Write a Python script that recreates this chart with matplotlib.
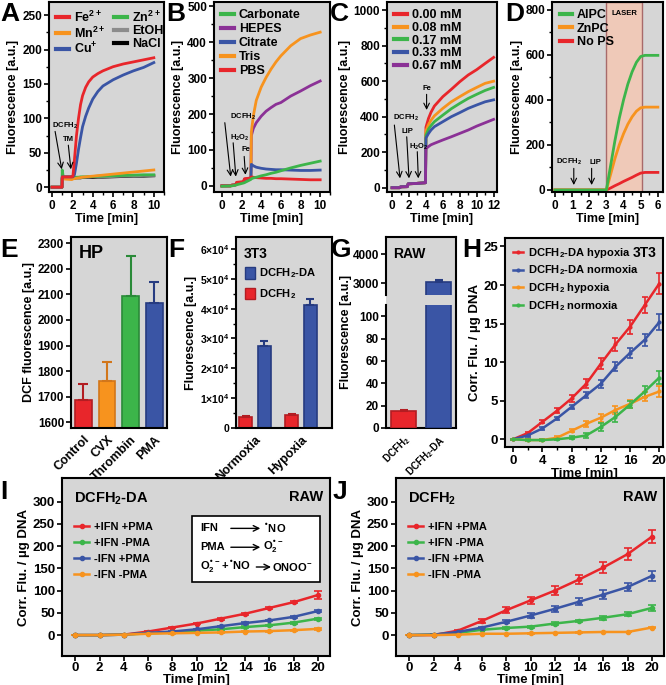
import matplotlib
matplotlib.use('Agg')
import matplotlib.pyplot as plt
from matplotlib.ticker import MultipleLocator
from matplotlib.patches import Patch, Rectangle

plt.rcParams.update({
    'font.family': ['Liberation Sans', 'DejaVu Sans'],
    'font.weight': 'bold',
    'axes.labelweight': 'bold',
    'mathtext.default': 'regular',
    'axes.linewidth': 1.5,
    'xtick.major.width': 1.2, 'ytick.major.width': 1.2,
    'xtick.minor.width': 1.0, 'ytick.minor.width': 1.0,
    'xtick.major.size': 3.5, 'ytick.major.size': 3.5,
    'xtick.minor.size': 2, 'ytick.minor.size': 2,
    'xtick.major.pad': 2, 'ytick.major.pad': 1.5,
    'xtick.labelsize': 8.5, 'ytick.labelsize': 8.5,
    'axes.labelsize': 9,
    'legend.frameon': False,
})

RED = '#e8262b'
ORANGE = '#f7931e'
GREEN = '#3cb54a'
BLUE = '#3a55a5'
PURPLE = '#8b3196'
BG = '#d6d6d6'

# ---------------- data ----------------
# A: metal ions
tA = [0, 0.98, 1.0, 1.1, 1.95, 2.05, 2.2, 2.4, 2.6, 2.8, 3.0, 3.3, 3.6, 4.0, 4.5, 5, 6, 7, 8, 9, 10]
A_fe = [0, 0, 15, 15, 15, 16, 40, 75, 100, 120, 133, 145, 153, 160, 165, 169, 175, 179, 182, 185, 188]
A_cu = [0, 0, 15, 15, 15, 15, 18, 35, 55, 72, 88, 103, 115, 128, 139, 147, 156, 163, 169, 174, 181]
A_mn = [0, 0, 12, 12, 11, 12, 12.5, 13, 13.5, 14, 14.5, 15, 15.5, 16, 16.8, 17.5, 19, 20.5, 22, 23.5, 25]
A_zn = [0, 0, 25, 15, 15, 14, 14, 14.5, 14.5, 15, 15, 15, 15.5, 15.5, 16, 16, 16.5, 17, 17.5, 18, 18]
A_etoh = [0, 0, 14, 14, 14, 13.5, 13.5, 14, 14, 14, 14.5, 14.5, 14.5, 15, 15, 15, 15.5, 16, 16.5, 17, 17]
A_nacl = [0, 0, 13, 13, 13, 13, 13, 13.5, 13.5, 13.5, 14, 14, 14, 14, 14.5, 14.5, 15, 15.5, 16, 16, 16.5]

# B: buffers
tB = [0, 0.9, 1.0, 1.4, 1.5, 2.2, 2.3, 2.95, 3.0, 3.2, 3.5, 4, 4.5, 5, 5.5, 6, 7, 8, 9, 10]
B_carb = [-1, 0, 0, 2, 3, 8, 9, 18, 20, 22, 24, 28, 31, 35, 38, 42, 50, 57, 63, 69]
B_hepes = [0, 0, 2, 3, 8, 10, 18, 22, 140, 160, 176, 194, 208, 218, 227, 232, 250, 264, 279, 292]
B_citr = [0, 0, 2, 3, 8, 10, 18, 22, 60, 56, 52, 49, 47, 46, 45, 45, 44, 43, 43, 44]
B_tris = [0, 0, 2, 3, 8, 10, 18, 22, 150, 195, 238, 275, 302, 325, 345, 362, 390, 410, 420, 428]
B_pbs = [0, 0, 2, 3, 10, 12, 20, 22, 25, 24, 23, 22, 21, 21, 20, 20, 19, 18, 17, 17]

# C: chelator concentrations
tC = [0, 0.9, 1.0, 1.8, 1.9, 2.9, 3.0, 3.95, 4.0, 4.3, 4.6, 5, 6, 7, 8, 9, 10, 11, 12]
C_pre = [0, 0, 5, 6, 22, 24, 25, 28]
C_000 = C_pre + [340, 390, 425, 460, 513, 554, 597, 635, 665, 700, 734]
C_008 = C_pre + [320, 355, 380, 405, 447, 484, 513, 541, 565, 588, 600]
C_017 = C_pre + [295, 330, 350, 372, 409, 445, 475, 503, 526, 548, 565]
C_033 = C_pre + [280, 305, 325, 344, 372, 400, 423, 447, 466, 484, 495]
C_067 = C_pre + [220, 232, 242, 250, 269, 287, 306, 325, 347, 366, 385]
C_labels = ['0.00 mM', '0.08 mM', '0.17 mM', '0.33 mM', '0.67 mM']

# D: photosensitisers
tD = [0, 3.0, 3.25, 3.5, 3.75, 4.0, 4.25, 4.5, 4.75, 5.0, 5.25, 5.5, 6.0]
D_alpc = [0, 0, 110, 220, 318, 400, 470, 525, 567, 593, 598, 598, 598]
D_znpc = [0, 0, 70, 140, 200, 250, 292, 325, 350, 365, 368, 368, 368]
D_nops = [0, 0, 9, 19, 28, 38, 47, 56, 66, 75, 78, 78, 78]

# E: HP
E_names = ['Control', 'CVX', 'Thrombin', 'PMA']
E_vals = [1688, 1760, 2095, 2068]
E_err = [60, 75, 155, 82]

# F: 3T3
F_groups = ['Normoxia', 'Hypoxia']
F_da = [27500, 41300]
F_da_err = [1600, 2000]
F_h2 = [3600, 4300]
F_h2_err = [400, 400]

# G: RAW
G_names = ['DCFH$_2$', 'DCFH$_2$-DA']
G_vals = [15, 3050]
G_err = [1.5, 60]

# H: 3T3 kinetics
tH = [0, 2, 4, 6, 8, 10, 12, 14, 16, 18, 20]
H_da_hyp = [0, 0.8, 2.25, 3.7, 5.3, 7.2, 9.8, 12.3, 14.6, 17.4, 20.2]
H_da_hyp_err = [0.1, 0.2, 0.2, 0.3, 0.5, 0.6, 0.7, 0.8, 0.9, 1.0, 1.4]
H_da_nor = [0, 0.5, 1.4, 2.7, 4.2, 5.7, 7.2, 9.4, 11.2, 12.9, 15.2]
H_da_nor_err = [0.1, 0.2, 0.2, 0.2, 0.3, 0.4, 0.5, 0.6, 0.7, 0.8, 1.0]
H_h2_hyp = [0, -0.1, -0.1, 0.2, 1.1, 2.0, 2.8, 3.8, 4.6, 5.5, 6.2]
H_h2_hyp_err = [0.1, 0.1, 0.1, 0.2, 0.2, 0.4, 0.5, 0.5, 0.5, 0.6, 0.7]
H_h2_nor = [0, -0.1, -0.1, 0, 0.2, 0.5, 1.6, 2.9, 4.5, 6.2, 8.0]
H_h2_nor_err = [0.1, 0.1, 0.1, 0.1, 0.2, 0.3, 0.5, 0.6, 0.5, 0.7, 0.8]

# I / J: RAW kinetics
tIJ = [0, 2, 4, 6, 8, 10, 12, 14, 16, 18, 20]
IJ_labels = ['+IFN +PMA', '+IFN -PMA', '-IFN +PMA', '-IFN -PMA']
I_pp = [0, 0, 1, 8, 17, 26, 37, 48, 61, 74, 90]
I_pp_err = [0, 0, 0.5, 1, 1.5, 2, 2, 2.5, 3, 3, 8]
I_pm = [0, 0, 1, 4, 6, 10, 13, 18, 22, 28, 37]
I_pm_err = [0, 0, 0.5, 0.5, 1, 1, 1, 1.5, 1.5, 2, 2]
I_mp = [0, 0, 1, 5, 8, 13, 20, 27, 33, 41, 54]
I_mp_err = [0, 0, 0.5, 0.5, 1, 1, 1.5, 1.5, 2, 2, 3]
I_mm = [0, 0, 1, 3, 4, 5, 6, 8, 9, 11, 14]
I_mm_err = [0, 0, 0.5, 0.5, 0.5, 0.5, 0.5, 1, 1, 1, 1.5]
J_pp = [0, 0, 10, 32, 56, 78, 100, 125, 152, 182, 221]
J_pp_err = [0, 0.5, 2, 4, 7, 8, 10, 11, 12, 13, 15]
J_pm = [0, 1, 5, 12, 16, 19, 26, 32, 39, 47, 61]
J_pm_err = [0, 0.5, 1, 1.5, 2, 2, 2.5, 3, 4, 5, 6]
J_mp = [0, 1, 7, 17, 30, 44, 59, 75, 91, 108, 133]
J_mp_err = [0, 0.5, 1, 2, 3, 5, 7, 8, 10, 10, 12]
J_mm = [0, 0, 1, 3, 3, 4, 5, 6, 7, 7, 17]
J_mm_err = [0, 0, 0.5, 0.5, 0.5, 0.5, 0.5, 0.5, 0.5, 0.5, 1]

# ---------------- figure ----------------
W, H = 666, 685
fig = plt.figure(figsize=(W / 100, H / 100), dpi=100)


def box(x0, y0, x1, y1):
    # axes placed by pixel edges of the reference
    return fig.add_axes([x0 / W, 1 - y1 / H, (x1 - x0) / W, (y1 - y0) / H])


def style(ax):
    ax.set_facecolor(BG)
    for s in ax.spines.values():
        s.set_linewidth(1.5)
    ax.tick_params(which='both', direction='out')


def arrow(ax, x0, y0, x1, y1):
    ax.annotate('', xy=(x1, y1), xytext=(x0, y0),
                arrowprops=dict(arrowstyle='->', lw=0.8, color='k', shrinkA=0, shrinkB=0))


def letter(x, y, s):
    fig.text(x / W, 1 - y / H, s, fontsize=19, fontweight='bold', va='top', ha='left')


# ---- A ----
ax = box(49, 2, 164, 192)
style(ax)
ax.plot(tA, A_nacl, color='k', lw=2, label='NaCl')
ax.plot(tA, A_etoh, color='#8c8c8c', lw=2, label='EtOH')
ax.plot(tA, A_zn, color=GREEN, lw=2, label='Zn$^{2+}$')
ax.plot(tA, A_mn, color=ORANGE, lw=2, label='Mn$^{2+}$')
ax.plot(tA, A_cu, color=BLUE, lw=2, label='Cu$^{+}$')
ax.plot(tA, A_fe, color=RED, lw=2, label='Fe$^{2+}$')
h, l = ax.get_legend_handles_labels()
order = [5, 3, 4, 2, 1, 0]
leg = ax.legend([h[i] for i in order], [l[i] for i in order], ncol=2, loc='upper left',
                fontsize=9, handlelength=1.0, handletextpad=0.4, columnspacing=0.7,
                labelspacing=0.05, borderaxespad=0.2)
for ln in leg.get_lines():
    ln.set_linewidth(3)
ax.set_xlim(-0.3, 11)
ax.set_ylim(-7, 269)
ax.xaxis.set_major_locator(MultipleLocator(2))
ax.xaxis.set_minor_locator(MultipleLocator(1))
ax.yaxis.set_major_locator(MultipleLocator(50))
ax.yaxis.set_minor_locator(MultipleLocator(25))
ax.set_xlabel('Time [min]', labelpad=1)
ax.set_ylabel('Fluorescence [a.u.]', labelpad=2)
ax.text(0.0, 89, 'DCFH$_2$', fontsize=5.5, va='center')
ax.text(1.1, 69, 'TM', fontsize=5.5, va='center')
arrow(ax, 0.3, 81, 0.95, 26)
arrow(ax, 1.6, 61, 1.85, 26)
letter(0, 2, 'A')

# ---- B ----
ax = box(214, 2, 330, 192)
style(ax)
ax.plot(tB, B_hepes, color=PURPLE, lw=2, label='HEPES')
ax.plot(tB, B_tris, color=ORANGE, lw=2, label='Tris')
ax.plot(tB, B_citr, color=BLUE, lw=2, label='Citrate')
ax.plot(tB, B_pbs, color=RED, lw=2, label='PBS')
ax.plot(tB, B_carb, color=GREEN, lw=2, label='Carbonate')
h, l = ax.get_legend_handles_labels()
order = [4, 0, 2, 1, 3]
leg = ax.legend([h[i] for i in order], [l[i] for i in order], loc='upper left',
                fontsize=9, handlelength=1.0, handletextpad=0.4,
                labelspacing=0.15, borderaxespad=0.2)
for ln in leg.get_lines():
    ln.set_linewidth(3)
ax.set_xlim(-0.8, 11)
ax.set_ylim(-17, 512)
ax.xaxis.set_major_locator(MultipleLocator(2))
ax.xaxis.set_minor_locator(MultipleLocator(1))
ax.yaxis.set_major_locator(MultipleLocator(100))
ax.yaxis.set_minor_locator(MultipleLocator(50))
ax.set_xlabel('Time [min]', labelpad=1)
ax.set_ylabel('Fluorescence [a.u.]', labelpad=2)
ax.text(0.8, 193, 'DCFH$_2$', fontsize=5.5, va='center')
ax.text(0.8, 134, 'H$_2$O$_2$', fontsize=5.5, va='center')
ax.text(2.0, 100, 'Fe', fontsize=5.5, va='center')
arrow(ax, 0.3, 176, 0.9, 26)
arrow(ax, 1.15, 120, 1.42, 26)
arrow(ax, 2.27, 82, 2.4, 31)
letter(166, 2, 'B')

# ---- C ----
ax = box(387, 2, 497, 192)
style(ax)
for ys, c, lab in zip([C_000, C_008, C_017, C_033, C_067],
                      [RED, ORANGE, GREEN, BLUE, PURPLE], C_labels):
    ax.plot(tC, ys, color=c, lw=2, label=lab)
leg = ax.legend(loc='upper left', fontsize=9, handlelength=1.0, handletextpad=0.4,
                labelspacing=0.05, borderaxespad=0.2)
for ln in leg.get_lines():
    ln.set_linewidth(3)
ax.set_xlim(-0.6, 12.4)
ax.set_ylim(-24, 1046)
ax.xaxis.set_major_locator(MultipleLocator(2))
ax.xaxis.set_minor_locator(MultipleLocator(1))
ax.yaxis.set_major_locator(MultipleLocator(200))
ax.yaxis.set_minor_locator(MultipleLocator(100))
ax.set_xlabel('Time [min]', labelpad=1)
ax.set_ylabel('Fluorescence [a.u.]', labelpad=2)
ax.text(0.1, 391, 'DCFH$_2$', fontsize=5.5, va='center')
ax.text(1.14, 315, 'LIP', fontsize=5.5, va='center')
ax.text(2.0, 231, 'H$_2$O$_2$', fontsize=5.5, va='center')
ax.text(4.08, 560, 'Fe', fontsize=5.5, va='center', ha='center')
arrow(ax, 0.27, 353, 0.94, 53)
arrow(ax, 1.73, 287, 2.0, 53)
arrow(ax, 2.98, 203, 3.1, 53)
arrow(ax, 4.08, 526, 4.08, 438)
letter(330, 2, 'C')

# ---- D ----
ax = box(552, 2, 663, 192)
style(ax)
ax.axvspan(3.0, 5.1, facecolor='#efc9b8', edgecolor='#a86a6a', lw=1.0, zorder=0.5)
ax.plot(tD, D_nops, color=RED, lw=2, label='No PS')
ax.plot(tD, D_znpc, color=ORANGE, lw=2, label='ZnPC')
ax.plot(tD, D_alpc, color=GREEN, lw=2, label='AlPC')
h, l = ax.get_legend_handles_labels()
leg = ax.legend(h[::-1], l[::-1], loc='upper left', fontsize=9, handlelength=1.0,
                handletextpad=0.4, labelspacing=0.1, borderaxespad=0.2)
for ln in leg.get_lines():
    ln.set_linewidth(3)
ax.set_xlim(-0.17, 6.3)
ax.set_ylim(-9, 835)
ax.xaxis.set_major_locator(MultipleLocator(1))
ax.xaxis.set_minor_locator(MultipleLocator(0.5))
ax.yaxis.set_major_locator(MultipleLocator(200))
ax.yaxis.set_minor_locator(MultipleLocator(100))
ax.set_xlabel('Time [min]', labelpad=1)
ax.set_ylabel('Fluorescence [a.u.]', labelpad=2)
ax.text(4.07, 785, 'LASER', fontsize=5.5, ha='center', va='center')
ax.text(0.8, 123, 'DCFH$_2$', fontsize=5.5, va='center', ha='center')
ax.text(2.34, 123, 'LIP', fontsize=5.5, va='center', ha='center')
arrow(ax, 1.1, 96, 1.1, 22)
arrow(ax, 2.14, 96, 2.14, 22)
letter(505, 2, 'D')

# ---- E ----
ax = box(71, 237, 167, 428)
style(ax)
E_cols = [RED, ORANGE, GREEN, BLUE]
E_edges = ['#b31d22', '#d2761a', '#2a8a38', '#263b80']
xs = list(range(len(E_names)))
ax.bar(xs, E_vals, width=0.72, color=E_cols, edgecolor=E_edges, lw=1.2)
for x, v, e, c in zip(xs, E_vals, E_err, E_edges):
    ax.errorbar(x, v, yerr=[[0], [e]], fmt='none', ecolor=c, capsize=3.5, lw=1.5, capthick=1.5)
ax.set_xlim(-0.53, 3.55)
ax.set_ylim(1577, 2325)
ax.yaxis.set_major_locator(MultipleLocator(100))
ax.set_xticks(xs)
ax.set_xticklabels(E_names, rotation=45, ha='right', rotation_mode='anchor', fontsize=9)
ax.tick_params(axis='x', length=0, pad=4)
ax.set_ylabel('DCF fluorescence [a.u.]', labelpad=2)
ax.text(0.08, 0.96, 'HP', transform=ax.transAxes, fontsize=13, va='top')
letter(0, 238, 'E')

# ---- F ----
ax = box(236, 237, 332, 428)
style(ax)
gx = list(range(len(F_groups)))
ax.bar([g - 0.2 for g in gx], F_h2, width=0.28, color=RED, edgecolor='#b31d22', lw=1.2)
ax.bar([g + 0.2 for g in gx], F_da, width=0.28, color=BLUE, edgecolor='#263b80', lw=1.2)
ax.errorbar([g - 0.2 for g in gx], F_h2, yerr=[[0, 0], F_h2_err], fmt='none',
            ecolor='#b31d22', capsize=3, lw=1.5, capthick=1.5)
ax.errorbar([g + 0.2 for g in gx], F_da, yerr=[[0, 0], F_da_err], fmt='none',
            ecolor='#263b80', capsize=3, lw=1.5, capthick=1.5)
ax.set_xlim(-0.41, 1.67)
ax.set_ylim(0, 64000)
ax.set_yticks([0, 10000, 20000, 30000, 40000, 50000, 60000])
ax.set_yticklabels(['0'] + ['%d\u00d710$^4$' % k for k in range(1, 7)], fontsize=7.5)
ax.yaxis.set_minor_locator(MultipleLocator(5000))
ax.set_xticks(gx)
ax.set_xticklabels(F_groups, rotation=45, ha='right', rotation_mode='anchor', fontsize=9)
ax.tick_params(axis='x', length=0, pad=4)
ax.set_ylabel('Fluorescence [a.u.]', labelpad=2)
ax.text(0.08, 0.95, '3T3', transform=ax.transAxes, fontsize=10, va='top')
hF = [Patch(facecolor=BLUE, edgecolor='#263b80'), Patch(facecolor=RED, edgecolor='#b31d22')]
ax.legend(hF, ['DCFH$_2$-DA', 'DCFH$_2$'], loc='upper left', bbox_to_anchor=(0.02, 0.88),
          fontsize=8, handlelength=0.9, handleheight=1.2, handletextpad=0.4,
          labelspacing=0.6, borderaxespad=0.2)
letter(168, 238, 'F')

# ---- G (broken axis) ----
axbg = box(386, 237, 456, 428)
axbg.set_facecolor(BG)
axbg.spines['left'].set_visible(False)
for s in ['top', 'right', 'bottom']:
    axbg.spines[s].set_linewidth(1.5)
axbg.set_xticks([])
axbg.set_yticks([])
G_cols = [RED, BLUE]
G_edges = ['#b31d22', '#263b80']
axu = box(386, 237, 456, 295)
axl = box(386, 305, 456, 428)
for a in (axu, axl):
    a.patch.set_visible(False)
    for s in ['top', 'right', 'bottom']:
        a.spines[s].set_visible(False)
    a.spines['left'].set_linewidth(1.5)
    a.bar(range(2), G_vals, width=0.71, color=G_cols, edgecolor=G_edges, lw=1.2)
    for x, v, e, c in zip(range(2), G_vals, G_err, G_edges):
        a.errorbar(x, v, yerr=[[0], [e]], fmt='none', ecolor=c, capsize=3, lw=1.5, capthick=1.5)
    a.set_xlim(-0.5, 1.5)
axu.set_ylim(2600, 4600)
axu.set_yticks([3000, 4000])
axu.set_xticks([])
axl.set_ylim(0, 110)
axl.set_yticks([0, 20, 40, 60, 80, 100])
axl.set_xticks([0, 1])
axl.set_xticklabels(G_names, rotation=45, ha='right', rotation_mode='anchor', fontsize=7)
axl.tick_params(axis='x', length=0, pad=4)
fig.text(346 / W, 1 - 332 / H, 'Fluorescence [a.u.]', rotation=90, ha='center', va='center',
         fontsize=9)
axbg.text(0.1, 0.95, 'RAW', transform=axbg.transAxes, fontsize=10, va='top')
letter(331, 238, 'G')

# ---- H ----
ax = box(505, 238, 663, 447)
style(ax)
for ys, es, c, lab in [(H_da_hyp, H_da_hyp_err, RED, 'DCFH$_2$-DA hypoxia'),
                       (H_da_nor, H_da_nor_err, BLUE, 'DCFH$_2$-DA normoxia'),
                       (H_h2_hyp, H_h2_hyp_err, ORANGE, 'DCFH$_2$ hypoxia'),
                       (H_h2_nor, H_h2_nor_err, GREEN, 'DCFH$_2$ normoxia')]:
    ax.errorbar(tH, ys, yerr=es, color=c, lw=1.8, marker='o', ms=2, capsize=2.5,
                capthick=1.2, elinewidth=1.2, label=lab)
h, l = ax.get_legend_handles_labels()
leg = ax.legend([hh[0] for hh in h], l, loc='upper left', fontsize=8, handlelength=0.9,
                handletextpad=0.5, labelspacing=0.35, borderaxespad=0.3)
ax.set_xlim(-1.1, 20.5)
ax.set_ylim(-1, 26.1)
ax.xaxis.set_major_locator(MultipleLocator(4))
ax.xaxis.set_minor_locator(MultipleLocator(2))
ax.yaxis.set_major_locator(MultipleLocator(5))
ax.tick_params(labelsize=9.5)
ax.set_xlabel('Time [min]', fontsize=9.5, labelpad=1)
ax.set_ylabel('Corr. Flu. / µg DNA', fontsize=9.5, labelpad=2)
ax.text(0.96, 0.96, '3T3', transform=ax.transAxes, fontsize=10, va='top', ha='right')
letter(462, 238, 'H')


# ---- I / J ----
def raw_panel(ax, series, title):
    style(ax)
    for (ys, es), c, lab in zip(series, [RED, GREEN, BLUE, ORANGE], IJ_labels):
        ax.errorbar(tIJ, ys, yerr=es, color=c, lw=1.8, marker='o', ms=3, capsize=3,
                    capthick=1.2, elinewidth=1.2, label=lab)
    h, l = ax.get_legend_handles_labels()
    ax.legend([hh[0] for hh in h], l, loc='upper left', bbox_to_anchor=(0.03, 0.78),
              fontsize=8, handlelength=1.3, handletextpad=0.5, labelspacing=0.55,
              borderaxespad=0.0)
    ax.set_xlim(-1.1, 21)
    ax.set_ylim(-47, 353)
    ax.xaxis.set_major_locator(MultipleLocator(2))
    ax.set_yticks(range(0, 301, 50))
    ax.tick_params(labelsize=9.5)
    ax.tick_params(axis='x', pad=1)
    ax.set_xlabel('Time [min]', fontsize=9.5, labelpad=0)
    ax.set_ylabel('Corr. Flu. / µg DNA', fontsize=9.5, labelpad=2)
    ax.text(0.045, 0.93, title, transform=ax.transAxes, fontsize=10.5, va='top')
    ax.text(0.975, 0.93, 'RAW', transform=ax.transAxes, fontsize=10.5, va='top', ha='right')


axI = box(62, 478, 330, 656)
raw_panel(axI, [(I_pp, I_pp_err), (I_pm, I_pm_err), (I_mp, I_mp_err), (I_mm, I_mm_err)],
          'DCFH$_2$-DA')
axI.add_patch(Rectangle((0.485, 0.417), 0.478, 0.372, transform=axI.transAxes,
                        facecolor='white', edgecolor='k', lw=1.2, zorder=5))
fs = 8
axI.text(0.515, 0.717, 'IFN', transform=axI.transAxes, fontsize=fs, va='center', zorder=6)
axI.text(0.75, 0.717, '$^{\u2022}$NO', transform=axI.transAxes, fontsize=fs, va='center', zorder=6)
axI.text(0.515, 0.611, 'PMA', transform=axI.transAxes, fontsize=fs, va='center', zorder=6)
axI.text(0.75, 0.611, 'O$_2^{\u2022-}$', transform=axI.transAxes, fontsize=fs, va='center', zorder=6)
axI.text(0.515, 0.50, 'O$_2^{\u2022-}$+$^{\u2022}$NO', transform=axI.transAxes, fontsize=fs,
         va='center', zorder=6)
axI.text(0.785, 0.50, 'ONOO$^{-}$', transform=axI.transAxes, fontsize=fs, va='center', zorder=6)
for y0, xa, xb in [(0.717, 0.63, 0.74), (0.611, 0.63, 0.74), (0.50, 0.725, 0.78)]:
    axI.annotate('', xy=(xb, y0), xytext=(xa, y0), xycoords='axes fraction',
                 arrowprops=dict(arrowstyle='->', lw=1.0, color='k', shrinkA=0, shrinkB=0),
                 zorder=6)
letter(0, 480, 'I')

axJ = box(396, 478, 664, 656)
raw_panel(axJ, [(J_pp, J_pp_err), (J_pm, J_pm_err), (J_mp, J_mp_err), (J_mm, J_mm_err)],
          'DCFH$_2$')
letter(333, 480, 'J')

fig.savefig('out.png', dpi=100)
